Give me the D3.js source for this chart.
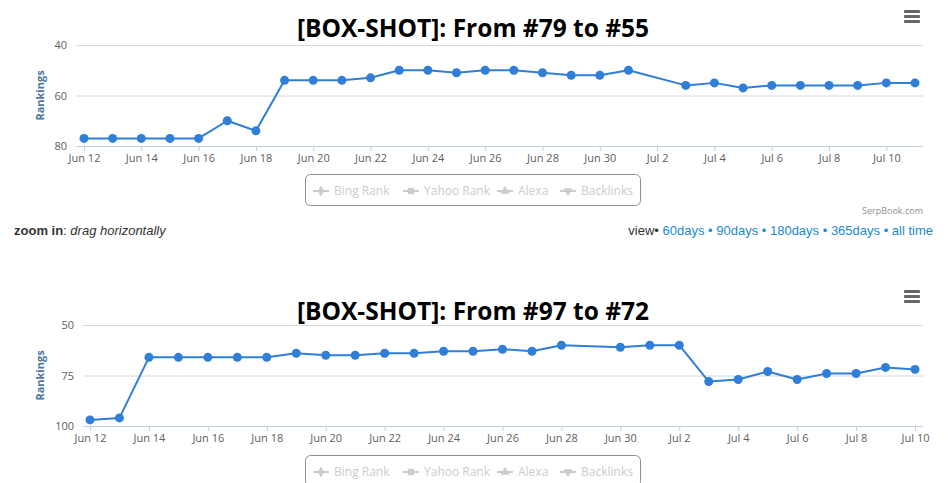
<!DOCTYPE html>
<html>
<head>
<meta charset="utf-8">
<script src="https://cdn.jsdelivr.net/npm/d3@7"></script>
<style>
  body { margin:0; background:#fff; }
  svg { display:block; }
</style>
</head>
<body>
<div id="chart"></div>
<script>
// ranking data
var topTitle = '[BOX-SHOT]: From #79 to #55';
var topDates = ['2015-06-12','2015-06-13','2015-06-14','2015-06-15','2015-06-16','2015-06-17','2015-06-18',
                '2015-06-19','2015-06-20','2015-06-21','2015-06-22','2015-06-23','2015-06-24','2015-06-25',
                '2015-06-26','2015-06-27','2015-06-28','2015-06-29','2015-06-30','2015-07-01',
                '2015-07-03','2015-07-04','2015-07-05','2015-07-06','2015-07-07','2015-07-08','2015-07-09',
                '2015-07-10','2015-07-11'];
var topRanks = [77,77,77,77,77,70,74,54,54,54,53,50,50,51,50,50,51,52,52,50,56,55,57,56,56,56,56,55,55];
var topYTicks = [40,60,80];

var bottomTitle = '[BOX-SHOT]: From #97 to #72';
var bottomDates = ['2015-06-12','2015-06-13','2015-06-14','2015-06-15','2015-06-16','2015-06-17','2015-06-18',
                   '2015-06-19','2015-06-20','2015-06-21','2015-06-22','2015-06-23','2015-06-24','2015-06-25',
                   '2015-06-26','2015-06-27','2015-06-28','2015-06-30','2015-07-01','2015-07-02',
                   '2015-07-03','2015-07-04','2015-07-05','2015-07-06','2015-07-07','2015-07-08','2015-07-09',
                   '2015-07-10'];
var bottomRanks = [97,96,66,66,66,66,66,64,65,65,64,64,63,63,62,63,60,61,60,60,78,77,73,77,74,74,71,72];
var bottomYTicks = [50,75,100];

var legendNames = ['Bing Rank','Yahoo Rank','Alexa','Backlinks'];
var viewLinks = ['60days','90days','180days','365days','all time'];

var parseDate = d3.timeParse('%Y-%m-%d');
var tickFont = '"Open Sans", Arial, sans-serif';

var svg = d3.select('#chart').append('svg')
    .attr('width', 948)
    .attr('height', 483);

function rankChart(g, opts){
  var dates = opts.dates.map(parseDate);
  var data = dates.map(function(d,i){ return {date:d, rank:opts.ranks[i]}; });

  var x = d3.scaleTime()
      .domain(d3.extent(dates))
      .range(opts.xRange);
  //rankings: best (smallest) at the top
  var y = d3.scaleLinear()
      .domain(d3.extent(opts.yTicks))
      .range(opts.yRange);

  //title
  g.append('text')
      .attr('x', 473)
      .attr('y', opts.titleY)
      .attr('text-anchor','middle')
      .style('font-family','"Open Sans", sans-serif')
      .style('font-weight','bold')
      .style('font-size','24.5px')
      .attr('fill','#000')
      .text(opts.title);

  //menu button
  var menu = g.append('g').attr('transform','translate(904,' + opts.menuY + ')');
  [0,5,10].forEach(function(o){
    menu.append('rect').attr('x',0).attr('y',o).attr('width',16).attr('height',3)
        .attr('rx',1).attr('fill','#666');
  });

  //grid lines and y labels
  var yAxis = d3.axisLeft(y)
      .tickValues(opts.yTicks)
      .tickSize(-(opts.plotRight - opts.plotLeft))
      .tickPadding(9);
  var yg = g.append('g')
      .attr('transform','translate(' + opts.plotLeft + ',0)')
      .call(yAxis);
  yg.select('.domain').remove();
  yg.selectAll('line').attr('stroke','#d8d8d8');
  yg.selectAll('text')
      .attr('fill','#606060')
      .style('font-family',tickFont)
      .style('font-size','11px');

  //x axis
  var xTicks = d3.timeDay.range(dates[0], d3.timeDay.offset(dates[dates.length-1],1), 2);
  var xAxis = d3.axisBottom(x)
      .tickValues(xTicks)
      .tickFormat(d3.timeFormat('%b %-d'))
      .tickSize(5)
      .tickPadding(3);
  var xg = g.append('g')
      .attr('transform','translate(0,' + opts.yRange[1] + ')')
      .call(xAxis);
  xg.select('.domain')
      .attr('d','M' + opts.plotLeft + ',0.5H' + opts.plotRight)
      .attr('stroke','#c0d0e0');
  xg.selectAll('line').attr('stroke','#c0d0e0');
  xg.selectAll('text')
      .attr('fill','#606060')
      .style('font-family',tickFont)
      .style('font-size','11px');

  //axis title
  g.append('text')
      .attr('transform','translate(' + 44 + ',' + ((opts.yRange[0]+opts.yRange[1])/2) + ') rotate(-90)')
      .attr('text-anchor','middle')
      .attr('fill','#4d759e')
      .style('font-family',tickFont)
      .style('font-weight','bold')
      .style('font-size','11px')
      .text('Rankings');

  //series
  var line = d3.line()
      .x(function(d){ return x(d.date); })
      .y(function(d){ return y(d.rank); });
  g.append('path')
      .datum(data)
      .attr('d',line)
      .attr('fill','none')
      .attr('stroke','#2f7ed8')
      .attr('stroke-width',2)
      .attr('stroke-linejoin','round');
  g.selectAll('.dot')
      .data(data)
      .enter().append('circle')
      .attr('class','dot')
      .attr('cx',function(d){ return x(d.date); })
      .attr('cy',function(d){ return y(d.rank); })
      .attr('r',4.5)
      .attr('fill','#2f7ed8');

  //legend (all series hidden -> grey)
  var lg = g.append('g').attr('transform','translate(305,' + opts.legendY + ')');
  lg.append('rect')
      .attr('x',0.5).attr('y',0.5)
      .attr('width',335).attr('height',31)
      .attr('rx',5)
      .attr('fill','none')
      .attr('stroke','#909090');
  var itemX = [8, 98, 192, 255];
  var symbols = [d3.symbolDiamond, d3.symbolSquare, d3.symbolTriangle, d3.symbolTriangle];
  legendNames.forEach(function(name,i){
    var it = lg.append('g').attr('transform','translate(' + itemX[i] + ',17)');
    it.append('line').attr('x1',0).attr('x2',16).attr('y1',0).attr('y2',0)
        .attr('stroke','#ccc').attr('stroke-width',2);
    it.append('path')
        .attr('d', d3.symbol().type(symbols[i]).size(i==1 ? 40 : 36)())
        .attr('transform','translate(8,0)' + (i==3 ? ' rotate(180)' : ''))
        .attr('fill','#ccc');
    it.append('text')
        .attr('x',21).attr('y',4)
        .attr('fill','#ccc')
        .style('font-family',tickFont)
        .style('font-size','12px')
        .text(name);
  });
}

rankChart(svg.append('g'), {
  title: topTitle, titleY: 37, menuY: 10,
  dates: topDates, ranks: topRanks, yTicks: topYTicks,
  xRange: [84, 915], yRange: [45, 146],
  plotLeft: 76, plotRight: 923, legendY: 174
});

rankChart(svg.append('g'), {
  title: bottomTitle, titleY: 320, menuY: 290,
  dates: bottomDates, ranks: bottomRanks, yTicks: bottomYTicks,
  xRange: [90, 915], yRange: [325, 426],
  plotLeft: 83, plotRight: 923, legendY: 455
});

//credits + footer controls of the first chart
svg.append('text')
    .attr('x',923).attr('y',214)
    .attr('text-anchor','end')
    .attr('fill','#909090')
    .style('font-family',tickFont)
    .style('font-size','9px')
    .text('SerpBook.com');

var zoomTxt = svg.append('text')
    .attr('x',14).attr('y',235)
    .attr('fill','#333')
    .style('font-family','Arial, "Liberation Sans", sans-serif')
    .style('font-size','13px');
zoomTxt.append('tspan').style('font-weight','bold').text('zoom in');
zoomTxt.append('tspan').text(': ');
zoomTxt.append('tspan').style('font-style','italic').text('drag horizontally');

var viewTxt = svg.append('text')
    .attr('x',933).attr('y',235)
    .attr('text-anchor','end')
    .attr('fill','#333')
    .style('font-family','Arial, "Liberation Sans", sans-serif')
    .style('font-size','13px');
viewTxt.append('tspan').text('view• ');
viewLinks.forEach(function(v,i){
  viewTxt.append('tspan').attr('fill','#1a8ad4').text(v);
  if(i < viewLinks.length-1) viewTxt.append('tspan').attr('fill','#1a8ad4').text(' • ');
});
</script>
</body>
</html>
